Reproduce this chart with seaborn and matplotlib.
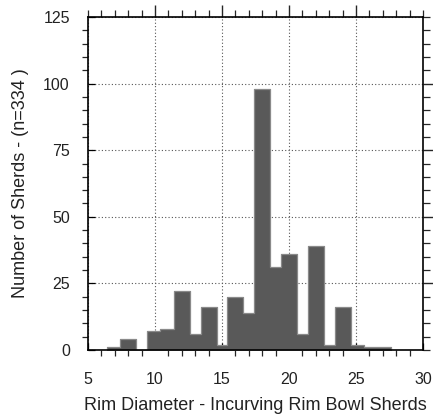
import numpy as np
import pandas as pd
import matplotlib
matplotlib.use("Agg")
import matplotlib.pyplot as plt
import seaborn as sns
from matplotlib.ticker import MultipleLocator, FixedLocator

# Data
bin_edges = [6.4, 7.4, 8.6, 9.4, 10.4, 11.4, 12.6, 13.4, 14.6, 15.4, 16.6,
             17.4, 18.6, 19.4, 20.6, 21.4, 22.6, 23.4, 24.6, 25.6, 26.6, 27.6]
counts = [1, 4, 0, 7, 8, 22, 6, 16, 2, 20, 14, 98, 31, 36, 6, 39, 2, 16, 2, 1, 1]
x_ticks = [5, 10, 15, 20, 25, 30]
y_ticks = [0, 25, 50, 75, 100, 125]
x_label = "Rim Diameter - Incurving Rim Bowl Sherds"
y_label = "Number of Sherds - (n=334 )"

centers = [(a + b) / 2 for a, b in zip(bin_edges[:-1], bin_edges[1:])]
df = pd.DataFrame({"diameter": centers, "count": counts})

sns.set_style("white")
plt.rcParams['font.family'] = ['Liberation Sans', 'DejaVu Sans']

fig = plt.figure(figsize=(4.33, 4.19), dpi=100)
ax = fig.add_axes([0.203, 0.165, 0.774, 0.794])

ax.grid(True, which='major', linestyle=(0, (1, 2)), color='#555555', linewidth=0.8)
ax.set_axisbelow(True)

sns.histplot(data=df, x="diameter", weights="count", bins=bin_edges, ax=ax,
             element="step", color='#595959', alpha=1.0,
             edgecolor='#8a8a8a', linewidth=0.9)

ax.set_xlim(5, 30)
ax.set_ylim(0, 125)
ax.xaxis.set_major_locator(FixedLocator(x_ticks))
ax.yaxis.set_major_locator(FixedLocator(y_ticks))
ax.xaxis.set_minor_locator(MultipleLocator(1))
ax.yaxis.set_minor_locator(MultipleLocator(5))
ax.tick_params(axis='both', which='major', direction='in', length=5, width=0.9,
               labelsize=11.5, colors='black', labelcolor='#222222',
               bottom=True, left=True, top=False, right=False)
ax.tick_params(axis='x', which='major', pad=16)
ax.tick_params(axis='y', which='major', pad=13)
ax.tick_params(axis='both', which='minor', direction='out', length=4.5, width=0.9,
               bottom=True, left=True, top=False, right=False)

# top and right: outward ticks
secx = ax.secondary_xaxis('top')
secx.xaxis.set_major_locator(FixedLocator([10, 15, 20, 25]))
secx.xaxis.set_minor_locator(MultipleLocator(1))
secx.tick_params(which='major', direction='out', length=8.5, width=1.0, labeltop=False)
secx.tick_params(which='minor', direction='out', length=5, width=0.9)
secx.spines['top'].set_visible(False)

secy = ax.secondary_yaxis('right')
secy.yaxis.set_major_locator(FixedLocator([25, 50, 75, 100]))
secy.yaxis.set_minor_locator(MultipleLocator(5))
secy.tick_params(which='major', direction='out', length=8.5, width=1.0, labelright=False)
secy.tick_params(which='minor', direction='out', length=5, width=0.9)
secy.spines['right'].set_visible(False)

for s in ax.spines.values():
    s.set_visible(True)
    s.set_color('black')
    s.set_linewidth(1.2)

ax.set_xlabel(x_label, fontsize=13, color='#222222', labelpad=7)
ax.set_ylabel(y_label, fontsize=13, color='#222222', labelpad=10)

fig.savefig("out.png", dpi=100)
